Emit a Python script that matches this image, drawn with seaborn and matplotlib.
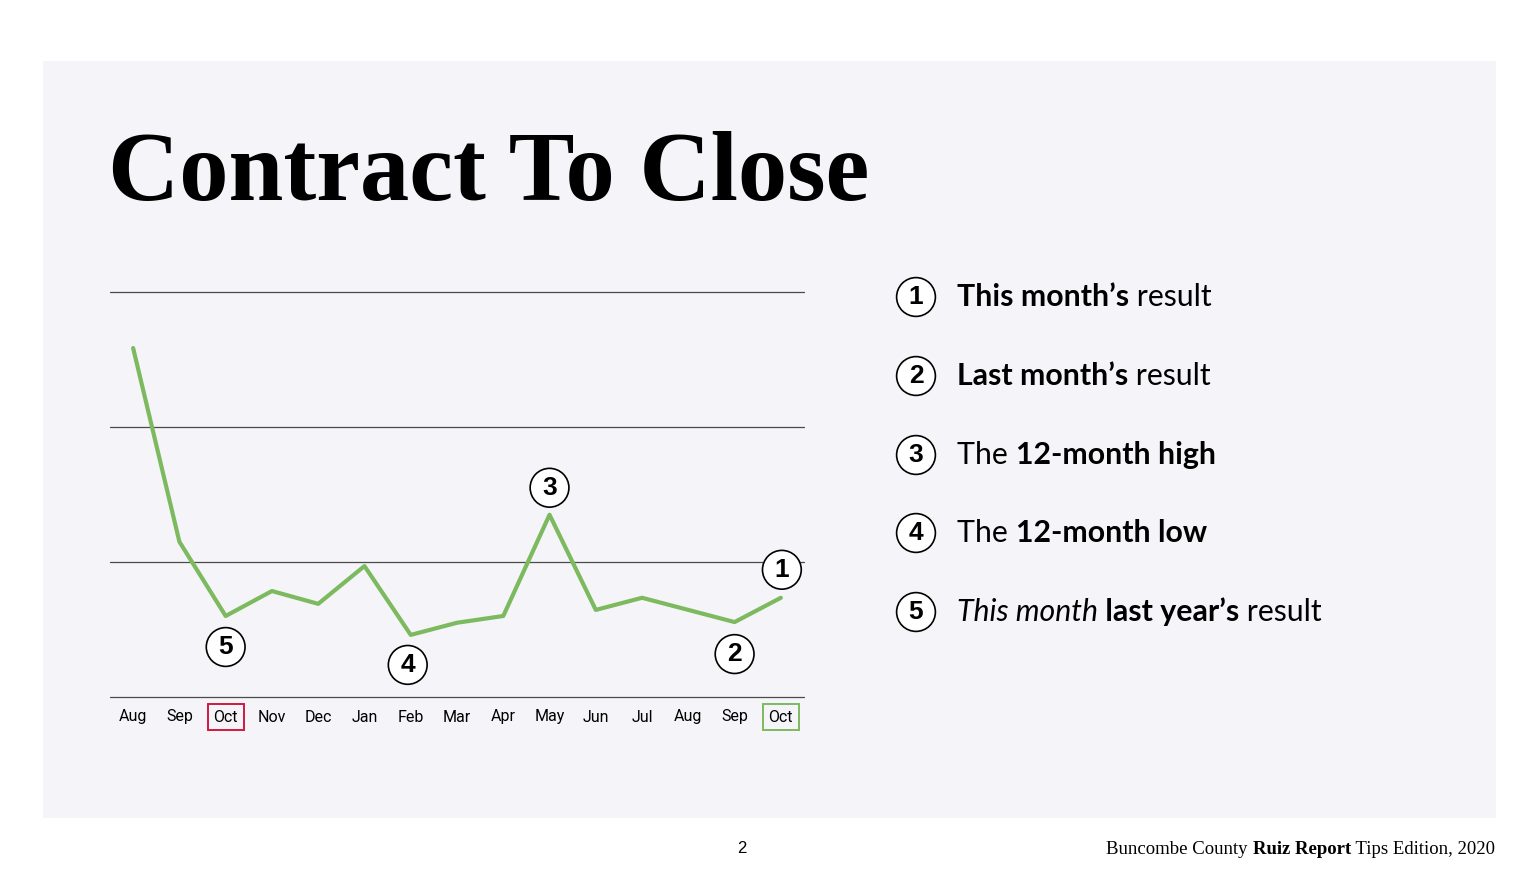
import matplotlib.pyplot as plt
import numpy as np
import seaborn as sns
from matplotlib.patches import Rectangle

# chart data (days from contract to close)
MONTHS = ['Aug', 'Sep', 'Oct', 'Nov', 'Dec', 'Jan', 'Feb', 'Mar',
          'Apr', 'May', 'Jun', 'Jul', 'Aug', 'Sep', 'Oct']
DAYS = [51.7, 23.0, 12.0, 15.7, 13.8, 19.4, 9.2, 11.0,
        12.0, 27.0, 12.9, 14.7, 12.9, 11.1, 14.7]
GRID_VALUES = [0, 20, 40, 60]

# numbered call-outs: (label, month index, offset in pixels)
CALLOUTS = [('1', 14, (1, 28)), ('2', 13, (0, -32)), ('3', 9, (0, 27)),
            ('4', 6, (-3, -30)), ('5', 2, (0, -31))]

# legend rows: list of (text, style) pieces
LEGEND = [
    [('This month’s', 'bold'), (' result', 'normal')],
    [('Last month’s', 'bold'), (' result', 'normal')],
    [('The ', 'normal'), ('12-month high', 'bold')],
    [('The ', 'normal'), ('12-month low', 'bold')],
    [('This month', 'italic'), (' last year’s', 'bold'), (' result', 'normal')],
]

GREEN = '#7DBA5F'
RED = '#D2173F'
PANEL = '#F5F5F9'

sns.set_theme(style='white')
plt.rcParams['font.family'] = ['Roboto', 'DejaVu Sans']
plt.rcParams['text.color'] = 'black'

W, H = 1540, 880
fig = plt.figure(figsize=(W / 100, H / 100), dpi=100, facecolor='white')

def fx(px):
    return px / W

def fy(py):
    return 1 - py / H

# light panel behind everything
fig.patches.append(Rectangle((fx(43), fy(818)), fx(1496) - fx(43), fy(61) - fy(818),
                             transform=fig.transFigure, facecolor=PANEL,
                             edgecolor='none', zorder=-5))

fig.text(fx(108), fy(200), 'Contract To Close', family='Liberation Serif',
         weight='bold', fontsize=71, color='black', va='baseline')

# line chart
ax = fig.add_axes([fx(110), fy(697), fx(804) - fx(110), fy(292) - fy(697)])
ax.set_facecolor('none')
x = np.arange(len(MONTHS))
sns.lineplot(x=x, y=DAYS, ax=ax, color=GREEN, linewidth=3.0)
ax.set_xlim(-0.5, len(MONTHS) - 0.5)
ax.set_ylim(GRID_VALUES[0], GRID_VALUES[-1])
ax.set_yticks(GRID_VALUES)
ax.set_yticklabels([])
ax.grid(True, axis='y', color='#4a4a4a', linewidth=0.9)
ax.grid(False, axis='x')
for s in ax.spines.values():
    s.set_visible(False)
ax.set_xticks(x)
ax.set_xticklabels(MONTHS)
ax.tick_params(axis='x', length=0, pad=9, labelsize=11.5, labelcolor='black')
ax.tick_params(axis='y', length=0)
for gl in ax.get_ygridlines():
    gl.set_clip_on(False)

ticks = ax.get_xticklabels()
ticks[2].set_bbox(dict(boxstyle='square,pad=0.35', fc='none', ec=RED, lw=1.4))
ticks[-1].set_bbox(dict(boxstyle='square,pad=0.35', fc='none', ec=GREEN, lw=1.4))

circle = dict(boxstyle='circle,pad=0.28', fc='white', ec='black', lw=1.2)
for label, i, off in CALLOUTS:
    ax.annotate(label, xy=(i, DAYS[i]), xytext=off, textcoords='offset pixels',
                ha='center', va='center', fontsize=19, weight='bold', color='black',
                family='Liberation Sans', bbox=circle, zorder=5,
                annotation_clip=False)

# legend on the right
row_y = [297, 376, 455, 533, 612]
for n, (pieces, yy) in enumerate(zip(LEGEND, row_y)):
    fig.text(fx(916), fy(yy), str(n + 1), ha='center', va='center', fontsize=19,
             weight='bold', family='Liberation Sans', color='black', bbox=circle)
    prev = None
    for txt, style in pieces:
        kw = dict(fontsize=21.8, family='Lato', color='black',
                  weight='bold' if style == 'bold' else 'normal',
                  style='italic' if style == 'italic' else 'normal')
        if prev is None:
            prev = fig.text(fx(957), fy(yy + 9), txt, va='baseline', ha='left', **kw)
        else:
            prev = ax.annotate(txt, xy=(1, 0), xycoords=prev, va='bottom', ha='left', **kw)

# footer
fig.text(fx(742), fy(848), '2', ha='center', va='center', fontsize=12,
         family='Liberation Sans', color='black')
footer = [('Buncombe County ', 'normal'), ('Ruiz Report', 'bold'), (' Tips Edition, 2020', 'normal')]
prev = None
for txt, wt in reversed(footer):
    kw = dict(fontsize=13.5, family='Liberation Serif', weight=wt, color='black')
    if prev is None:
        prev = fig.text(fx(1495), fy(854), txt, ha='right', va='baseline', **kw)
    else:
        prev = ax.annotate(txt, xy=(0, 0), xycoords=prev, ha='right', va='bottom', **kw)

fig.savefig('out.png', dpi=100, facecolor='white')
